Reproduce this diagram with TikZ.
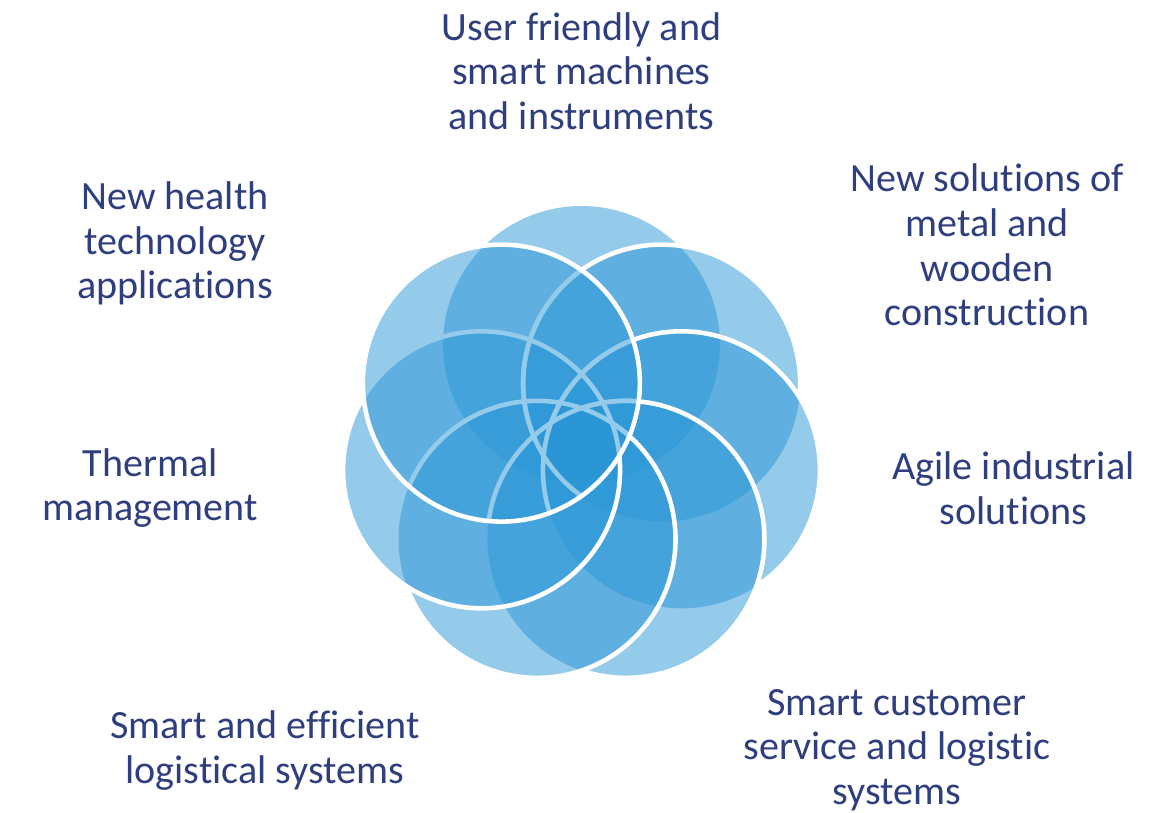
\documentclass[tikz,border=0pt]{standalone}
\usepackage{fontspec}
\setmainfont[Ligatures=CommonOff]{Carlito}

\begin{document}
\begin{tikzpicture}
  \definecolor{petalblue}{RGB}{42,150,214}
  \definecolor{navy}{RGB}{47,62,126}
  \tikzset{
    petal/.style={fill=petalblue, fill opacity=0.5},
    rim/.style={draw=white, line width=2.6pt},
    topic/.style={text=navy, align=center, inner sep=0pt,
      font=\fontsize{22.8}{25.4}\selectfont}
  }
  \useasboundingbox (-11.63,-7.30) rectangle (11.45,8.94);

  % centres of the seven circles
  \coordinate (ct) at (90:2.05);
  \coordinate (ctr) at (38.57:2.05);
  \coordinate (cr) at (-12.86:2.05);
  \coordinate (cbr) at (-64.29:2.05);
  \coordinate (cbl) at (-115.71:2.05);
  \coordinate (cl) at (-167.14:2.05);
  \coordinate (ctl) at (141.43:2.05);

  % fills, clockwise from the top
  \fill[petal] (ct) circle (2.77);
  \fill[petal] (ctr) circle (2.77);
  \fill[petal] (cr) circle (2.77);
  \fill[petal] (cbr) circle (2.77);
  \fill[petal] (cbl) circle (2.77);
  \fill[petal] (cl) circle (2.77);

  % white rims, hidden under the next circle
  \begin{scope}[even odd rule]
    \clip (-12,-8) rectangle (12,10) (cr) circle (2.77);
    \draw[rim] (ctr) circle (2.77);
  \end{scope}
  \begin{scope}[even odd rule]
    \clip (-12,-8) rectangle (12,10) (cbr) circle (2.77);
    \draw[rim] (cr) circle (2.77);
  \end{scope}
  \begin{scope}[even odd rule]
    \clip (-12,-8) rectangle (12,10) (cbl) circle (2.77);
    \draw[rim] (cbr) circle (2.77);
  \end{scope}
  \begin{scope}[even odd rule]
    \clip (-12,-8) rectangle (12,10) (cl) circle (2.77);
    \draw[rim] (cbl) circle (2.77);
  \end{scope}
  \draw[rim] (cl) circle (2.77);

  % rims under the last circle
  \begin{scope}
    \clip (ctl) circle (2.77);
    \draw[rim] (ctr) circle (2.77) (cr) circle (2.77) (cbr) circle (2.77)
      (cbl) circle (2.77);
  \end{scope}

  % last circle on top
  \path[petal, rim] (ctl) circle (2.77);

  % labels
  \node[topic] (machines) at (0,7.52) {User friendly and\\smart machines\\and instruments};
  \node[topic] (construction) at (8.11,4.04) {New solutions of\\metal and\\wooden\\construction};
  \node[topic] (industrial) at (8.64,-0.83) {Agile industrial\\solutions};
  \node[topic] (customer) at (6.31,-6.06) {Smart customer\\service and logistic\\systems};
  \node[topic] (logistics) at (-6.33,-6.07) {Smart and efficient\\logistical systems};
  \node[topic] (thermal) at (-8.63,-0.82) {Thermal\\management};
  \node[topic] (health) at (-8.13,4.07) {New health\\technology\\applications};
\end{tikzpicture}
\end{document}
